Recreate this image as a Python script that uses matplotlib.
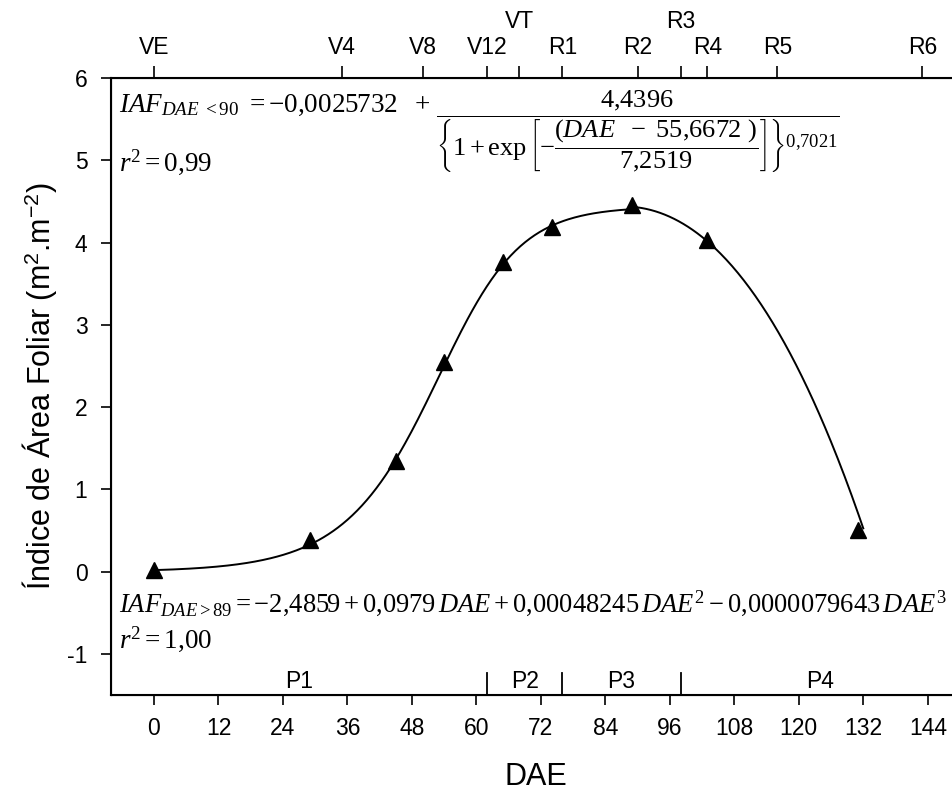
import numpy as np
import matplotlib
matplotlib.use("Agg")
import matplotlib.pyplot as plt

# observed leaf area index (DAE, IAF)
dae_obs = [0, 29, 45, 54, 65, 74, 89, 103, 131]
iaf_obs = [0.02, 0.38, 1.34, 2.55, 3.76, 4.19, 4.46, 4.03, 0.50]

# fitted models
logistic_coef = [-0.0025732, 4.4396, 55.6672, 7.2519, 0.7021]   # DAE < 90
cubic_coef = [-2.4859, 0.0979, 0.00048245, -0.0000079643]       # DAE > 89

# phenological stages (top axis)
stage_dae = [0, 35, 50, 62, 68, 76, 90, 98, 103, 116, 143]
stage_labels = ["VE", "V4", "V8", "V12", "VT", "R1", "R2", "R3", "R4", "R5", "R6"]
raised_stages = ["VT", "R3"]

# periods (bottom band)
period_edges = [-8, 62, 76, 98, 150]
period_labels = ["P1", "P2", "P3", "P4"]

xticks = list(range(0, 145, 12))
yticks = [-1, 0, 1, 2, 3, 4, 5, 6]

plt.rcParams["font.family"] = ["Liberation Sans", "DejaVu Sans"]
plt.rcParams["mathtext.fontset"] = "custom"
plt.rcParams["mathtext.rm"] = "Liberation Serif"
plt.rcParams["mathtext.it"] = "Liberation Serif:italic"
plt.rcParams["mathtext.sf"] = "Liberation Sans"

fig = plt.figure(figsize=(9.52, 7.94), dpi=100)
ax = fig.add_axes([111 / 952, 0.1247, 849 / 952, 0.7771])

a, b, c, d, e = logistic_coef
x1 = np.linspace(0, 89, 300)
y1 = a + b / (1 + np.exp(-(x1 - c) / d)) ** e
x2 = np.linspace(89, 132, 200)
y2 = cubic_coef[0] + cubic_coef[1] * x2 + cubic_coef[2] * x2 ** 2 + cubic_coef[3] * x2 ** 3

ax.plot(x1, y1, color="black", lw=1.4)
ax.plot(x2, y2, color="black", lw=1.4)
ax.plot(dae_obs, iaf_obs, linestyle="none", marker="^", color="black", markersize=11)

ax.set_xlim(-8, 150)
ax.set_ylim(-1.5, 6)
ax.set_xticks(xticks, labels=[str(v) for v in xticks])
ax.set_yticks(yticks, labels=[str(v) for v in yticks])
ax.tick_params(axis="both", direction="out", length=7, width=1.2, labelsize=16.5)
ax.tick_params(axis="x", pad=9)
ax.tick_params(axis="y", pad=10)
for s in ["top", "bottom", "left"]:
    ax.spines[s].set_linewidth(1.5)
ax.spines["right"].set_visible(False)

ax.set_xlabel("DAE", fontsize=22, labelpad=16)
ax.set_ylabel(r"Índice de Área Foliar (m$^{\mathsf{2}}$.m$^{\mathsf{-2}}$)", fontsize=22, labelpad=6)

# top axis with stages
top = ax.twiny()
top.set_xlim(ax.get_xlim())
top.set_xticks(stage_dae, labels=[""] * len(stage_dae))
top.tick_params(axis="x", direction="out", length=9, width=1.2)
top.spines["right"].set_visible(False)
for xs, lab in zip(stage_dae, stage_labels):
    yy = 1.091 if lab in raised_stages else 1.050
    ax.text(xs, yy, lab, transform=ax.get_xaxis_transform(), ha="center", va="center", fontsize=16.5)

# period separators and labels
for xe in period_edges[1:-1]:
    ax.plot([xe, xe], [-1.5, -1.23], color="black", lw=1.3, clip_on=False)
for i, lab in enumerate(period_labels):
    xm = (period_edges[i] + period_edges[i + 1]) / 2
    ax.text(xm, -1.33, lab, ha="center", va="center", fontsize=16.5)

# equations
ax.text(-6.5, 5.67, r"$IAF_{DAE\ <90}\ = -0{,}0025732\ \ +$", fontsize=19.5, ha="left", va="center")
frac = (r"$\dfrac{4{,}4396}"
        r"{\left\{1+\exp\left[-\dfrac{(DAE\ \ -\ 55{,}6672\ )}{7{,}2519}\right]\right\}^{0{,}7021}}$")
ax.text(52.5, 5.35, frac, fontsize=19, ha="left", va="center")
ax.text(-6.5, 4.98, r"$r^2 = 0{,}99$", fontsize=19.5, ha="left", va="center")

eq2 = (r"$IAF_{DAE>89} = -2{,}4859 + 0{,}0979\,DAE + 0{,}00048245\,DAE^{2}"
       r" - 0{,}0000079643\,DAE^{3}$")
ax.text(-6.5, -0.38, eq2, fontsize=19.1, ha="left", va="center")
ax.text(-6.5, -0.82, r"$r^2 = 1{,}00$", fontsize=19.5, ha="left", va="center")

fig.savefig("out.png", dpi=100)
